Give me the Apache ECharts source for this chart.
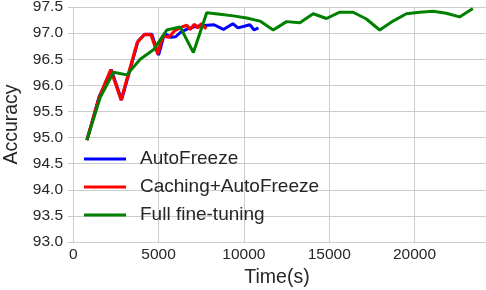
<!DOCTYPE html>
<html>
<head>
<meta charset="utf-8">
<script src="https://cdn.jsdelivr.net/npm/echarts@6/dist/echarts.min.js"></script>
<style>
  html, body { margin: 0; padding: 0; background: #fff; }
  #chart { width: 486px; height: 290px; }
</style>
</head>
<body>
<div id="chart"></div>
<script>
// AutoFreeze (blue)
const autoTime = [800, 1500, 2230, 2830, 3800, 4200, 4600, 5000, 5350, 5700, 6000, 6300, 6700, 7100, 7500, 7850, 8250, 8800, 9350, 9650, 10350, 10600, 10850]
const autoAcc = [94.95, 95.77, 96.30, 95.72, 96.85, 96.98, 96.98, 96.58, 97.00, 96.92, 96.93, 97.02, 97.08, 97.12, 97.14, 97.15, 97.16, 97.07, 97.18, 97.10, 97.16, 97.06, 97.10]

// Caching+AutoFreeze (red)
const cacheTime = [800, 1500, 2200, 2800, 3750, 4150, 4550, 4950, 5250, 5600, 5950, 6400, 6650, 6850, 7100, 7300, 7500, 7800]
const cacheAcc = [94.95, 95.75, 96.30, 95.72, 96.82, 96.97, 96.97, 96.60, 96.95, 96.92, 97.05, 97.12, 97.15, 97.07, 97.17, 97.10, 97.18, 97.08]

// Full fine-tuning (green)
const fullTime = [800, 1580, 2360, 3140, 3920, 4700, 5480, 6260, 7040, 7820, 8600, 9380, 10160, 10940, 11720, 12500, 13280, 14060, 14840, 15620, 16400, 17180, 17960, 18740, 19520, 20300, 21080, 21860, 22640, 23420]
const fullAcc = [94.95, 95.77, 96.25, 96.20, 96.50, 96.68, 97.06, 97.12, 96.63, 97.39, 97.36, 97.33, 97.29, 97.23, 97.06, 97.22, 97.20, 97.37, 97.28, 97.40, 97.40, 97.27, 97.06, 97.23, 97.37, 97.40, 97.42, 97.38, 97.31, 97.47]

const xTicks = [0, 5000, 10000, 15000, 20000]

const pairs = (xs, ys) => xs.map((x, i) => [x, ys[i]])

const chart = echarts.init(document.getElementById('chart'))
const textColor = '#262626'
const gridColor = '#cccccc'
const font = 'Liberation Sans, Arial, sans-serif'

const option = {
  animation: false,
  grid: {
    left: 68,
    right: 0,
    top: 7,
    bottom: 48,
    containLabel: false,
    outerBoundsMode: 'none'
  },
  legend: {
    orient: 'vertical',
    left: 79,
    top: 144,
    icon: 'rect',
    itemWidth: 42,
    itemHeight: 3,
    itemGap: 8,
    textStyle: {
      fontFamily: font,
      fontSize: 19,
      lineHeight: 20,
      color: textColor,
      padding: [0, 0, 0, 9]
    },
    data: ['AutoFreeze', 'Caching+AutoFreeze', 'Full fine-tuning']
  },
  xAxis: {
    type: 'value',
    min: -310,
    max: 24190,
    name: 'Time(s)',
    nameLocation: 'middle',
    nameGap: 21,
    nameTextStyle: { fontFamily: font, fontSize: 19.5, color: textColor },
    axisLine: { show: true, lineStyle: { color: gridColor, width: 1 } },
    axisTick: { show: false, customValues: xTicks },
    axisLabel: {
      customValues: xTicks,
      fontFamily: font,
      fontSize: 15.5,
      color: textColor,
      margin: 5,
      formatter: v => String(v)
    },
    splitLine: { show: true, lineStyle: { color: gridColor, width: 1 } }
  },
  yAxis: {
    type: 'value',
    min: 93,
    max: 97.5,
    interval: 0.5,
    name: 'Accuracy',
    nameLocation: 'middle',
    nameGap: 38,
    nameTextStyle: { fontFamily: font, fontSize: 19.5, color: textColor },
    axisLine: { show: true, lineStyle: { color: gridColor, width: 1 } },
    axisTick: { show: false },
    axisLabel: {
      fontFamily: font,
      fontSize: 15.5,
      color: textColor,
      margin: 5,
      formatter: v => v.toFixed(1)
    },
    splitLine: { show: true, lineStyle: { color: gridColor, width: 1 } }
  },
  series: [
    {
      name: 'AutoFreeze',
      type: 'line',
      data: pairs(autoTime, autoAcc),
      showSymbol: false,
      color: '#0000ff',
      lineStyle: { width: 3, color: '#0000ff' },
      z: 2
    },
    {
      name: 'Caching+AutoFreeze',
      type: 'line',
      data: pairs(cacheTime, cacheAcc),
      showSymbol: false,
      color: '#ff0000',
      lineStyle: { width: 3.2, color: '#ff0000' },
      z: 3
    },
    {
      name: 'Full fine-tuning',
      type: 'line',
      data: pairs(fullTime, fullAcc),
      showSymbol: false,
      color: '#008000',
      lineStyle: { width: 3, color: '#008000' },
      z: 4
    }
  ]
}

chart.setOption(option)
</script>
</body>
</html>
